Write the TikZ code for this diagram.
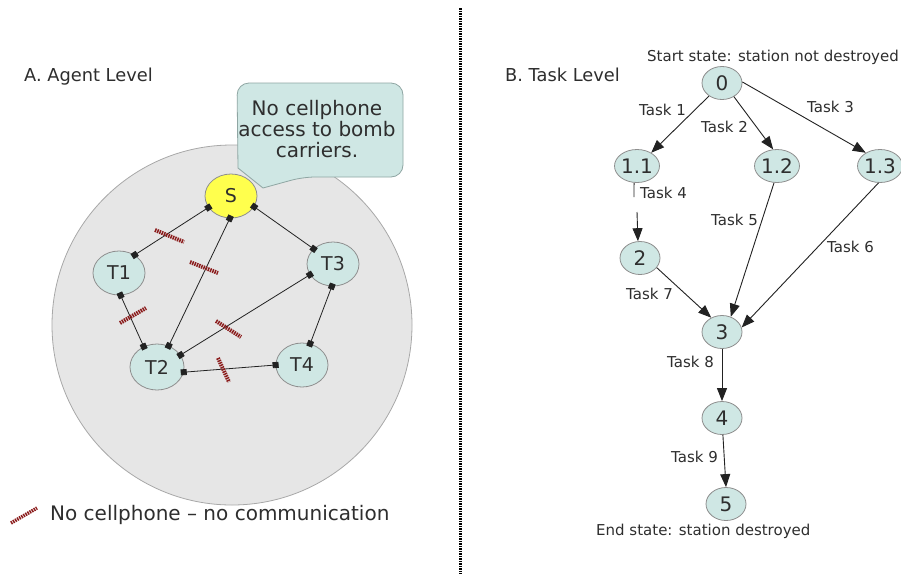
\documentclass[tikz,border=0pt]{standalone}
\usepackage{fontspec}
\setmainfont{DejaVu Sans}
\usetikzlibrary{shapes.geometric,arrows.meta}
\definecolor{tealfill}{HTML}{CFE7E4}
\definecolor{nodeborder}{HTML}{8E8E8E}
\definecolor{textgray}{HTML}{2E2E2E}
\definecolor{linegray}{HTML}{222222}
\definecolor{bigfill}{HTML}{E6E6E6}
\definecolor{bigborder}{HTML}{A8A8A8}
\definecolor{sfill}{HTML}{FFFF4D}
\definecolor{markred}{HTML}{8B1C1C}
\definecolor{bubborder}{HTML}{8FA6A3}
\begin{document}
\begin{tikzpicture}[x=1pt,y=-1pt,
  stnode/.style={ellipse, draw=nodeborder, fill=tealfill, line width=0.8pt, inner sep=0pt, text=textgray},
  agent/.style={stnode, minimum width=52pt, minimum height=44pt, font=\fontsize{19}{19}\selectfont},
  tasknode/.style={stnode, minimum width=40pt, minimum height=33pt, font=\fontsize{20}{20}\selectfont},
  link/.style={draw=linegray, line width=0.8pt, shorten <=-3pt, shorten >=-3pt,
     {Square[length=6pt,width=6pt]}-{Square[length=6pt,width=6pt]}},
  taskarrow/.style={draw=linegray, line width=0.9pt, -{Triangle[length=13pt,width=10pt]}},
  tasklabel/.style={anchor=base west, inner sep=0pt, text=textgray, font=\fontsize{15}{15}\selectfont},
  title/.style={anchor=base west, inner sep=0pt, text=textgray, font=\fontsize{17.8}{17.8}\selectfont},
  nocomm/.style={draw=markred, line width=4pt, dash pattern=on 1.5pt off 0.9pt}
]
\useasboundingbox (0,0) rectangle (901,574);
\fill[white] (0,0) rectangle (901,574);

% divider
\draw[black, line width=3pt, dash pattern=on 1.5pt off 1pt] (460,8) -- (460,574);

% ===== Left panel =====
\node[title] (titleA) at (24,81) {A. Agent Level};
\draw[fill=bigfill, draw=bigborder, line width=0.8pt] (232,325) circle (180);

% speech bubble
\draw[fill=tealfill, draw=bubborder, line width=0.8pt, rounded corners=12pt]
  (237,83) -- (403,83) -- (403,177) -- (303,177) [sharp corners] -- (263,188) -- (238,168) [rounded corners=12pt] -- cycle;
\node[align=center, text=textgray, font=\fontsize{20}{21}\selectfont, inner sep=0pt] (bubtext) at (317,129)
  {No cellphone\\access to bomb\\carriers.};

\node[agent, fill=sfill] (nS) at (231,196) {S};
\node[agent] (nT1) at (119,273) {T1};
\node[agent] (nT3) at (333,264) {T3};
\node[agent, minimum width=54pt, minimum height=46pt] (nT2) at (157,367) {T2};
\node[agent] (nT4) at (302,365) {T4};

\draw[link] (nS.-153) -- (nT1.49);
\draw[link] (nS.-93) -- (nT2.61);
\draw[link] (nS.-25) -- (nT3.142);
\draw[link] (nT1.-86) -- (nT2.123);
\draw[link] (nT3.205) -- (nT2.27);
\draw[link] (nT3.-93) -- (nT4.69);
\draw[link] (nT2.-11) -- (nT4.180);

% no-communication marks
\draw[nocomm] (155,230) -- (184,242);
\draw[nocomm] (190,262) -- (218,273);
\draw[nocomm] (120,323) -- (146,308);
\draw[nocomm] (216,321) -- (241,337);
\draw[nocomm] (218,358) -- (229,382);

% legend
\draw[nocomm, line width=3.5pt] (11,523) -- (37,508);
\node[anchor=base west, inner sep=0pt, text=textgray, font=\fontsize{20}{20}\selectfont] (legend) at (50,520)
  {No cellphone – no communication};

% ===== Right panel =====
\node[title] (titleB) at (505,81) {B. Task Level};
\node[tasklabel] (startlbl) at (647,61) {Start state: station not destroyed};

\node[tasknode] (n0) at (722,83) {0};
\node[tasknode] (n11) at (637,166) {1.1};
\node[tasknode] (n12) at (777,166) {1.2};
\node[tasknode] (n13) at (880,166) {1.3};
\node[tasknode] (n2) at (640,258) {2};
\node[tasknode] (n3) at (722,332) {3};
\node[tasknode] (n4) at (722,418) {4};
\node[tasknode] (n5) at (726,504) {5};

\node[tasklabel] (endlbl) at (596,535) {End state: station destroyed};

\coordinate (gA) at (634,197);
\coordinate (gB) at (637,212);

\draw[taskarrow] (n0.-135) -- (n11.43);
\draw[taskarrow] (n0.-49) -- (n12.103);
\draw[taskarrow] (n0.3) -- (n13.137);
\draw[draw=linegray, line width=0.9pt] (n11.-100) -- (gA);
\draw[taskarrow] (gB) -- (n2.97);
\draw[taskarrow] (n2.-30) -- (n3.127);
\draw[taskarrow] (n12.-100) -- (n3.60);
\draw[taskarrow] (n13.-95) -- (n3.13);
\draw[taskarrow] (n3.-90) -- (n4.90);
\draw[taskarrow] (n4.-87) -- (n5.90);

\node[tasklabel] (t1) at (639,115) {Task 1};
\node[tasklabel] (t2) at (701,132) {Task 2};
\node[tasklabel] (t3) at (807,112) {Task 3};
\node[tasklabel] (t4) at (640,198) {Task 4};
\node[tasklabel] (t5) at (711,225) {Task 5};
\node[tasklabel] (t6) at (827,252) {Task 6};
\node[tasklabel] (t7) at (626,299) {Task 7};
\node[tasklabel] (t8) at (667,367) {Task 8};
\node[tasklabel] (t9) at (671,462) {Task 9};
\end{tikzpicture}
\end{document}
